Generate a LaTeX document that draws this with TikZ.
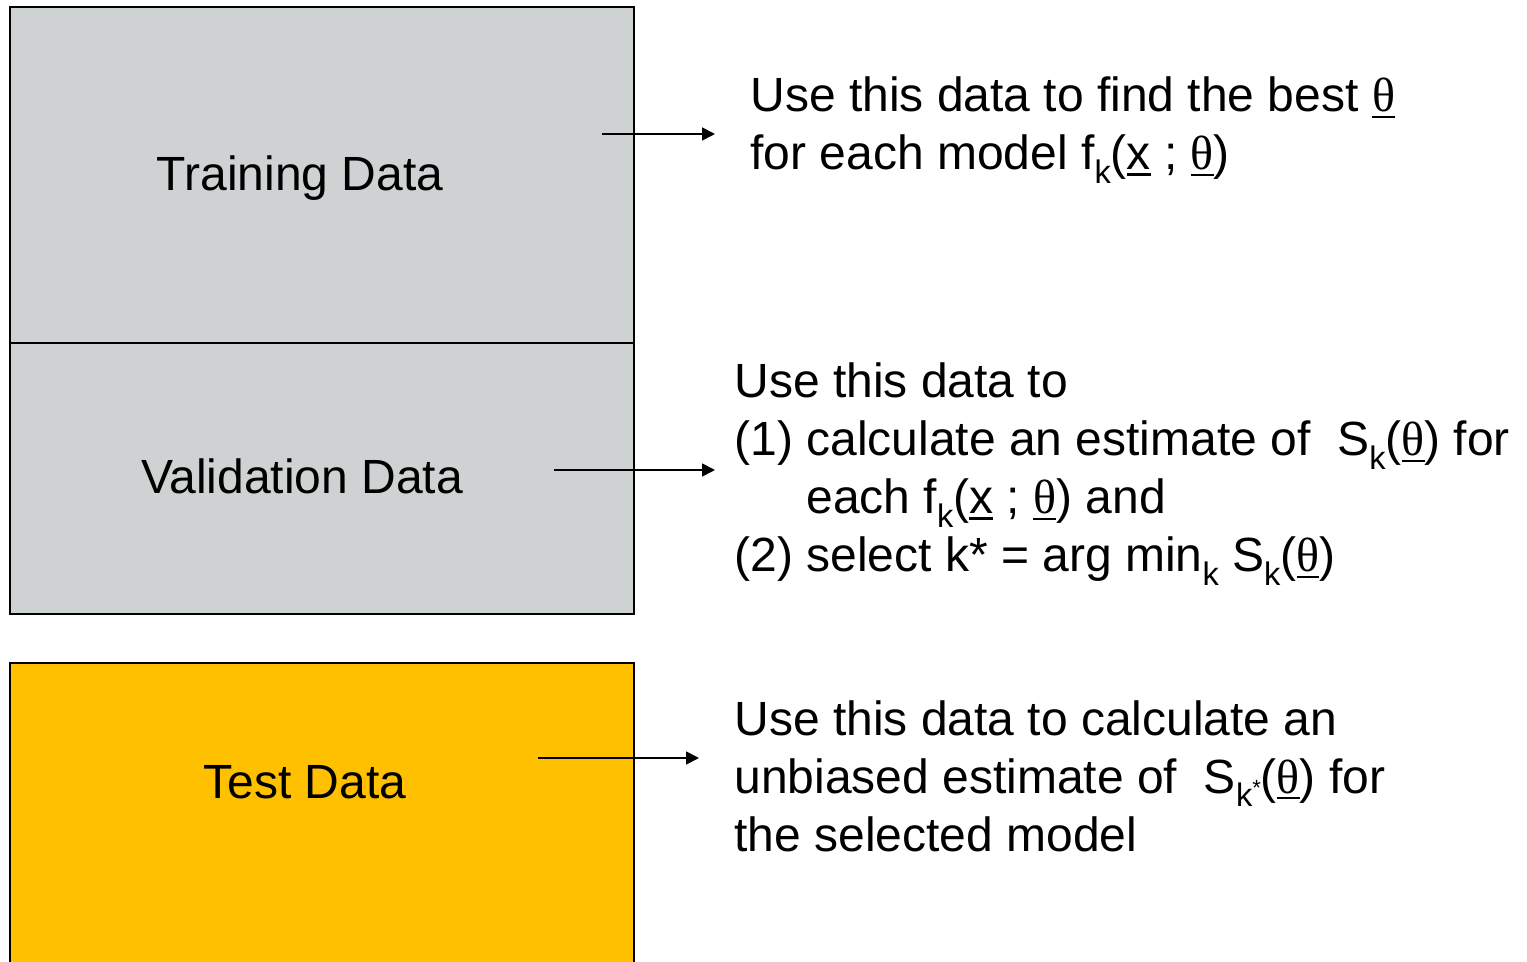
\documentclass[tikz,border=0pt]{standalone}
\usepackage{fontspec}
\setmainfont{Liberation Sans}
\newfontfamily\thfont{Liberation Serif}
\usetikzlibrary{arrows.meta}
\definecolor{boxgray}{RGB}{206,210,211}
\definecolor{boxyellow}{RGB}{255,192,0}
\newcommand{\myul}[1]{\leavevmode\vtop{\hbox{#1}\kern1.6pt\hrule height 1.3pt}}
\newcommand{\thu}{\myul{\thfont θ}}
\newcommand{\xu}{\myul{x}}
\newcommand{\sbk}[1]{\raisebox{-0.28em}{\fontsize{16.3}{16}\selectfont #1}}
\newcommand{\kst}{k\raisebox{0.35em}{\fontsize{11}{11}\selectfont *}}
\begin{document}
\begin{tikzpicture}[x=0.5pt,y=-0.5pt,
  box/.style={draw=black,line width=0.8pt},
  lbl/.style={font=\fontsize{24}{28}\selectfont, inner sep=0pt, anchor=base},
  txt/.style={font=\fontsize{24}{28}\selectfont, inner sep=0pt, anchor=base west},
  arr/.style={-{Triangle[length=6.5pt,width=6.5pt]}, line width=0.9pt}]
\clip (0,0) rectangle (1527,962);
% boxes
\path[box,fill=boxgray] (10,7) rectangle (634,343);
\path[box,fill=boxgray] (10,343) rectangle (634,614);
\path[box,fill=boxyellow] (10,663) rectangle (634,980);
% labels
\node[lbl] (ltrain) at (300,191) {Training Data};
\node[lbl] (lval) at (302,494) {Validation Data};
\node[lbl] (ltest) at (305,798) {Test Data};
% text block 1
\node[txt] (t11) at (750,112) {Use this data to find the best \thu};
\node[txt] (t12) at (750,170) {for each model f\sbk{k}(\xu{} ; \thu)};
% text block 2
\node[txt] (t21) at (734,398) {Use this data to};
\node[txt] (t22) at (734,456) {(1) calculate an estimate of \ S\sbk{k}(\thu) for};
\node[txt] (t23) at (806,514) {each f\sbk{k}(\xu{} ; \thu) and};
\node[txt] (t24) at (734,572) {(2) select k* = arg min\sbk{k} S\sbk{k}(\thu)};
% text block 3
\node[txt] (t31) at (734,735) {Use this data to calculate an};
\node[txt] (t32) at (734,793) {unbiased estimate of \ S\sbk{\kst}(\thu) for};
\node[txt] (t33) at (734,851) {the selected model};
% arrows
\coordinate (a1s) at (602,134); \coordinate (a1e) at (715,134);
\coordinate (a2s) at (554,470); \coordinate (a2e) at (715,470);
\coordinate (a3s) at (538,758); \coordinate (a3e) at (699,758);
\draw[arr] (a1s) -- (a1e);
\draw[arr] (a2s) -- (a2e);
\draw[arr] (a3s) -- (a3e);
\end{tikzpicture}
\end{document}
